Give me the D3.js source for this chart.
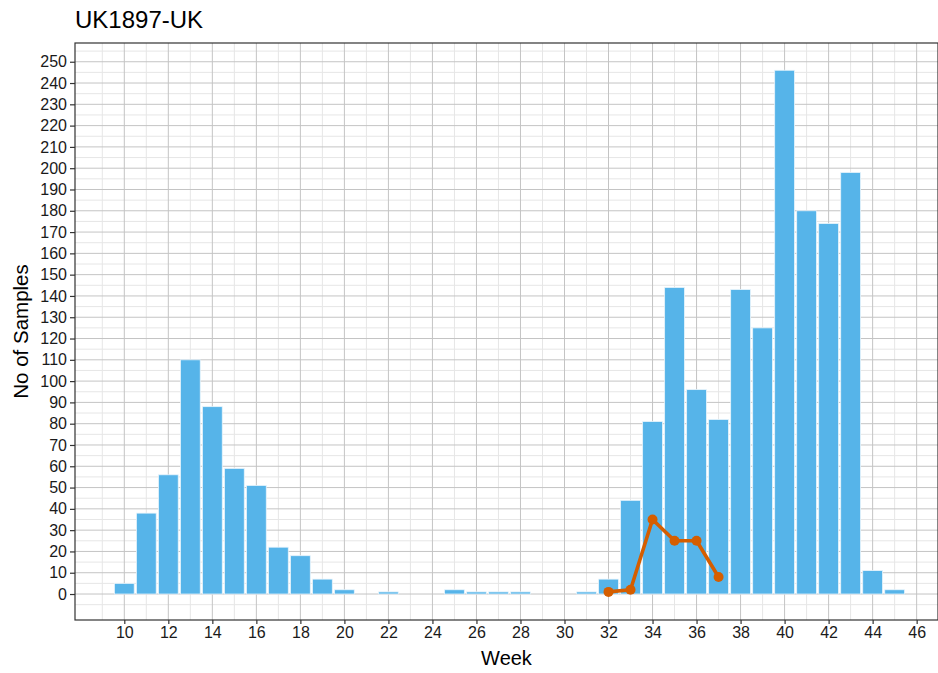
<!DOCTYPE html>
<html lang="en">
<head>
    <meta charset="UTF-8">
    <title>UK1897-UK</title>
    <style>
        body { margin: 0; background: #fff; }
        svg text { font-family: "Liberation Sans", Arial, sans-serif; }
    </style>
</head>
<body>
    <script src="https://d3js.org/d3.v7.min.js"></script>
    <div id="chart"></div>
    <script>
        // Bars: samples per week
        const weeks = [10, 11, 12, 13, 14, 15, 16, 17, 18, 19, 20, 22, 25, 26, 27, 28, 31,
                       32, 33, 34, 35, 36, 37, 38, 39, 40, 41, 42, 43, 44, 45];
        const samples = [5, 38, 56, 110, 88, 59, 51, 22, 18, 7, 2, 1, 2, 1, 1, 1, 1,
                         7, 44, 81, 144, 96, 82, 143, 125, 246, 180, 174, 198, 11, 2];

        // Line series
        const lineWeeks = [32, 33, 34, 35, 36, 37];
        const lineValues = [1, 2, 35, 25, 25, 8];

        const xTicks = d3.range(10, 47, 2);
        const yTicks = d3.range(0, 251, 10);

        const width = 938, height = 673;
        const margin = { top: 43, right: 0, bottom: 53, left: 75 };

        const svg = d3.select("#chart").append("svg")
            .attr("width", width)
            .attr("height", height);

        const x = d3.scaleLinear()
            .domain([7.76, 46.97])
            .range([margin.left, width - margin.right]);

        const y = d3.scaleLinear()
            .domain([-12.2, 258.8])
            .range([height - margin.bottom, margin.top]);

        const panel = svg.append("g");

        // minor gridlines
        panel.selectAll(".xminor")
            .data(d3.range(9, 48, 2))
            .enter().append("line")
            .attr("x1", d => x(d)).attr("x2", d => x(d))
            .attr("y1", y.range()[0]).attr("y2", y.range()[1])
            .attr("stroke", "#e6e6e6").attr("stroke-width", 1);

        panel.selectAll(".yminor")
            .data(d3.range(-5, 256, 10))
            .enter().append("line")
            .attr("x1", x.range()[0]).attr("x2", x.range()[1])
            .attr("y1", d => y(d)).attr("y2", d => y(d))
            .attr("stroke", "#e6e6e6").attr("stroke-width", 1);

        // major gridlines
        panel.selectAll(".xmajor")
            .data(xTicks)
            .enter().append("line")
            .attr("x1", d => x(d)).attr("x2", d => x(d))
            .attr("y1", y.range()[0]).attr("y2", y.range()[1])
            .attr("stroke", "#c4c4c4").attr("stroke-width", 1);

        panel.selectAll(".ymajor")
            .data(yTicks)
            .enter().append("line")
            .attr("x1", x.range()[0]).attr("x2", x.range()[1])
            .attr("y1", d => y(d)).attr("y2", d => y(d))
            .attr("stroke", "#c4c4c4").attr("stroke-width", 1);

        // bars
        const bw = x(0.9) - x(0);
        panel.selectAll(".bar")
            .data(weeks.map((w, i) => ({ week: w, n: samples[i] })))
            .enter().append("rect")
            .attr("x", d => x(d.week) - bw / 2)
            .attr("y", d => y(d.n))
            .attr("width", bw)
            .attr("height", d => y(0) - y(d.n))
            .attr("fill", "#56B4E9")
            .attr("stroke", "#e8f4fc")
            .attr("stroke-width", 0.8);

        // line + points
        const lineData = lineWeeks.map((w, i) => ({ week: w, v: lineValues[i] }));
        const line = d3.line().x(d => x(d.week)).y(d => y(d.v));
        panel.append("path")
            .datum(lineData)
            .attr("fill", "none")
            .attr("stroke", "#D55E00")
            .attr("stroke-width", 3.6)
            .attr("stroke-linejoin", "round")
            .attr("d", line);
        panel.selectAll(".pt")
            .data(lineData)
            .enter().append("circle")
            .attr("cx", d => x(d.week))
            .attr("cy", d => y(d.v))
            .attr("r", 5)
            .attr("fill", "#D55E00");

        // panel border
        svg.append("rect")
            .attr("x", x.range()[0]).attr("y", y.range()[1])
            .attr("width", x.range()[1] - x.range()[0])
            .attr("height", y.range()[0] - y.range()[1])
            .attr("fill", "none")
            .attr("stroke", "#333")
            .attr("stroke-width", 1.2);

        // axes
        const xAxis = svg.append("g")
            .attr("transform", `translate(0,${y.range()[0]})`)
            .call(d3.axisBottom(x).tickValues(xTicks).tickSize(4).tickPadding(3));
        const yAxis = svg.append("g")
            .attr("transform", `translate(${x.range()[0]},0)`)
            .call(d3.axisLeft(y).tickValues(yTicks).tickSize(5).tickPadding(3));

        [xAxis, yAxis].forEach(g => {
            g.select(".domain").remove();
            g.selectAll(".tick line").attr("stroke", "#333").attr("stroke-width", 1.2);
            g.selectAll(".tick text")
                .attr("fill", "#1a1a1a")
                .style("font-size", "16px")
                .style("font-family", "'Liberation Sans', Arial, sans-serif");
        });

        // titles
        svg.append("text")
            .attr("x", 75).attr("y", 28)
            .attr("fill", "#000")
            .style("font-size", "24px")
            .text("UK1897-UK");

        svg.append("text")
            .attr("x", (x.range()[0] + x.range()[1]) / 2)
            .attr("y", 665)
            .attr("text-anchor", "middle")
            .attr("fill", "#000")
            .style("font-size", "20px")
            .text("Week");

        svg.append("text")
            .attr("transform", `translate(28,${(y.range()[0] + y.range()[1]) / 2}) rotate(-90)`)
            .attr("text-anchor", "middle")
            .attr("fill", "#000")
            .style("font-size", "20.5px")
            .text("No of Samples");
    </script>
</body>
</html>
